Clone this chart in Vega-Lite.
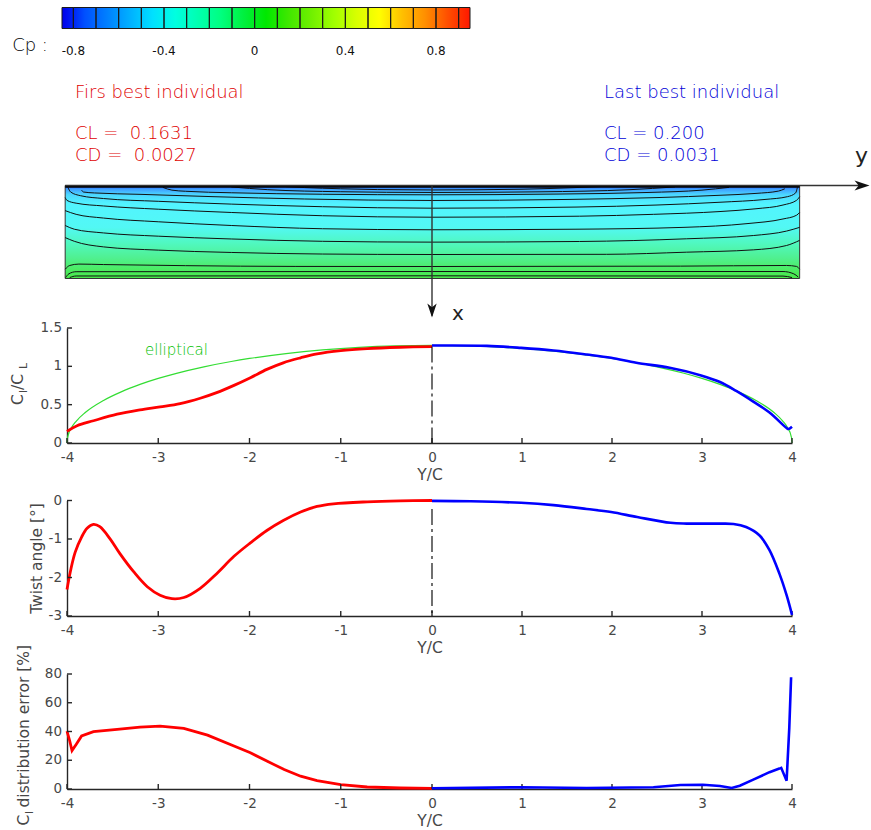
{
"$schema": "https://vega.github.io/schema/vega-lite/v6.json",
"background": "white",
"padding": {"left": 11, "top": 6.5, "right": 0, "bottom": 0},
"bounds": "flush",
"spacing": 57.5,
"config": {
  "view": {"stroke": null},
  "font": "DejaVu Sans",
  "axis": {"grid": false, "domainColor": "#262626", "domainWidth": 1.4, "ticks": false, "labelColor": "#474747", "labelFontSize": 13.5, "labelFont": "DejaVu Sans", "titleFont": "DejaVu Sans", "titleFontSize": 15.5, "titleFontWeight": "normal", "titleColor": "#474747", "labelFlush": false, "labelOverlap": false},
  "axisX": {"labelPadding": 7.4, "titleY": 24, "titleBaseline": "top"},
  "axisY": {"labels": false}
},
"datasets": {
  "cells": [{"a":-0.85,"b":-0.8},{"a":-0.8,"b":-0.7},{"a":-0.7,"b":-0.6},{"a":-0.6,"b":-0.5},{"a":-0.5,"b":-0.4},{"a":-0.4,"b":-0.3},{"a":-0.3,"b":-0.2},{"a":-0.2,"b":-0.1},{"a":-0.1,"b":0},{"a":0,"b":0.1},{"a":0.1,"b":0.2},{"a":0.2,"b":0.3},{"a":0.3,"b":0.4},{"a":0.4,"b":0.5},{"a":0.5,"b":0.6},{"a":0.6,"b":0.7},{"a":0.7,"b":0.8},{"a":0.8,"b":0.9},{"a":0.9,"b":0.95}],
  "cbticks": [{"cp":-0.8,"t":"-0.8"},{"cp":-0.4,"t":"-0.4"},{"cp":0,"t":"0"},{"cp":0.4,"t":"0.4"},{"cp":0.8,"t":"0.8"}],
  "xt": [{"Y":-4},{"Y":-3},{"Y":-2},{"Y":-1},{"Y":0},{"Y":1},{"Y":2},{"Y":3},{"Y":4}],
  "yl1": [{"v":0,"t":"0"},{"v":0.5,"t":"0.5"},{"v":1,"t":"1"},{"v":1.5,"t":"1.5"}],
  "yl2": [{"v":-3,"t":"-3"},{"v":-2,"t":"-2"},{"v":-1,"t":"-1"},{"v":0,"t":"0"}],
  "yl3": [{"v":0,"t":"0"},{"v":20,"t":"20"},{"v":40,"t":"40"},{"v":60,"t":"60"},{"v":80,"t":"80"}],
  "contours": [
    {"k":1,"Y":-1.6,"c":0.012},{"k":1,"Y":-1.4,"c":0.022},{"k":1,"Y":-1.0,"c":0.035},{"k":1,"Y":-0.6,"c":0.044},{"k":1,"Y":0,"c":0.048},{"k":1,"Y":1.0,"c":0.04},{"k":1,"Y":1.6,"c":0.022},{"k":1,"Y":1.9,"c":0.01},
    {"k":2,"Y":-2.2,"c":0.015},{"k":2,"Y":-1.8,"c":0.045},{"k":2,"Y":-1.0,"c":0.067},{"k":2,"Y":0,"c":0.075},{"k":2,"Y":1.2,"c":0.068},{"k":2,"Y":2.2,"c":0.045},{"k":2,"Y":2.7,"c":0.015},
    {"k":3,"Y":-2.95,"c":0.02},{"k":3,"Y":-2.85,"c":0.05},{"k":3,"Y":-2.7,"c":0.062},{"k":3,"Y":-2.2,"c":0.078},{"k":3,"Y":-1.2,"c":0.094},{"k":3,"Y":0,"c":0.1},{"k":3,"Y":1.4,"c":0.092},{"k":3,"Y":2.4,"c":0.075},{"k":3,"Y":3.0,"c":0.05},{"k":3,"Y":3.3,"c":0.02},
    {"k":4,"Y":-3.84,"c":0.05},{"k":4,"Y":-3.82,"c":0.07},{"k":4,"Y":-3.7,"c":0.08},{"k":4,"Y":-3.2,"c":0.095},{"k":4,"Y":-2.4,"c":0.12},{"k":4,"Y":-1.4,"c":0.145},{"k":4,"Y":0,"c":0.161},{"k":4,"Y":1.5,"c":0.15},{"k":4,"Y":2.5,"c":0.13},{"k":4,"Y":3.2,"c":0.105},{"k":4,"Y":3.6,"c":0.085},{"k":4,"Y":3.85,"c":0.06},{"k":4,"Y":3.92,"c":0.035},
    {"k":5,"Y":-3.99,"c":0.02},{"k":5,"Y":-3.96,"c":0.07},{"k":5,"Y":-3.85,"c":0.11},{"k":5,"Y":-3.6,"c":0.14},{"k":5,"Y":-3.0,"c":0.17},{"k":5,"Y":-2.2,"c":0.2},{"k":5,"Y":-1.2,"c":0.228},{"k":5,"Y":0,"c":0.244},{"k":5,"Y":1.6,"c":0.232},{"k":5,"Y":2.5,"c":0.21},{"k":5,"Y":3.2,"c":0.18},{"k":5,"Y":3.7,"c":0.15},{"k":5,"Y":3.95,"c":0.12},{"k":5,"Y":4.04,"c":0.08},{"k":5,"Y":4.06,"c":0.02},
    {"k":6,"Y":-4.02,"c":0.13},{"k":6,"Y":-4.0,"c":0.16},{"k":6,"Y":-3.9,"c":0.19},{"k":6,"Y":-3.6,"c":0.22},{"k":6,"Y":-3.0,"c":0.255},{"k":6,"Y":-2.2,"c":0.29},{"k":6,"Y":-1.2,"c":0.325},{"k":6,"Y":0,"c":0.341},{"k":6,"Y":1.64,"c":0.33},{"k":6,"Y":2.46,"c":0.31},{"k":6,"Y":3.2,"c":0.28},{"k":6,"Y":3.6,"c":0.25},{"k":6,"Y":3.9,"c":0.21},{"k":6,"Y":4.05,"c":0.16},{"k":6,"Y":4.085,"c":0.12},
    {"k":7,"Y":-4.02,"c":0.27},{"k":7,"Y":-3.9,"c":0.31},{"k":7,"Y":-3.6,"c":0.35},{"k":7,"Y":-3.0,"c":0.39},{"k":7,"Y":-2.2,"c":0.43},{"k":7,"Y":-1.2,"c":0.465},{"k":7,"Y":0,"c":0.476},{"k":7,"Y":1.6,"c":0.47},{"k":7,"Y":2.8,"c":0.45},{"k":7,"Y":3.5,"c":0.41},{"k":7,"Y":3.9,"c":0.36},{"k":7,"Y":4.05,"c":0.32},{"k":7,"Y":4.085,"c":0.29},
    {"k":8,"Y":-4.02,"c":0.43},{"k":8,"Y":-3.92,"c":0.47},{"k":8,"Y":-3.6,"c":0.51},{"k":8,"Y":-3.0,"c":0.545},{"k":8,"Y":-2.2,"c":0.575},{"k":8,"Y":-1.2,"c":0.6},{"k":8,"Y":0,"c":0.609},{"k":8,"Y":1.64,"c":0.602},{"k":8,"Y":2.83,"c":0.573},{"k":8,"Y":3.57,"c":0.538},{"k":8,"Y":3.94,"c":0.49},{"k":8,"Y":4.085,"c":0.45},
    {"k":9,"Y":-4.02,"c":0.56},{"k":9,"Y":-3.92,"c":0.6},{"k":9,"Y":-3.6,"c":0.66},{"k":9,"Y":-3.0,"c":0.695},{"k":9,"Y":-2.2,"c":0.72},{"k":9,"Y":-1.2,"c":0.737},{"k":9,"Y":0,"c":0.742},{"k":9,"Y":1.94,"c":0.74},{"k":9,"Y":2.83,"c":0.717},{"k":9,"Y":3.57,"c":0.692},{"k":9,"Y":3.94,"c":0.645},{"k":9,"Y":4.085,"c":0.59},
    {"k":10,"Y":-4.02,"c":0.9},{"k":10,"Y":-3.97,"c":0.86},{"k":10,"Y":-3.87,"c":0.845},{"k":10,"Y":-3.6,"c":0.85},{"k":10,"Y":-2.7,"c":0.862},{"k":10,"Y":-1.5,"c":0.87},{"k":10,"Y":0,"c":0.871},{"k":10,"Y":2.76,"c":0.867},{"k":10,"Y":3.94,"c":0.86},{"k":10,"Y":4.05,"c":0.87},{"k":10,"Y":4.085,"c":0.9},
    {"k":11,"Y":-4.015,"c":0.99},{"k":11,"Y":-3.98,"c":0.95},{"k":11,"Y":-3.9,"c":0.927},{"k":11,"Y":0,"c":0.925},{"k":11,"Y":3.9,"c":0.925},{"k":11,"Y":4.02,"c":0.95},{"k":11,"Y":4.07,"c":0.985},
    {"k":12,"Y":-3.97,"c":0.99},{"k":12,"Y":-3.9,"c":0.973},{"k":12,"Y":0,"c":0.971},{"k":12,"Y":3.9,"c":0.974},{"k":12,"Y":4.0,"c":0.99}
  ],
  "cl_first": [{"Y":-4,"v":0.151},{"Y":-3.89,"v":0.225},{"Y":-3.71,"v":0.29},{"Y":-3.45,"v":0.376},{"Y":-3.2,"v":0.432},{"Y":-2.98,"v":0.471},{"Y":-2.76,"v":0.514},{"Y":-2.54,"v":0.584},{"Y":-2.36,"v":0.657},{"Y":-2.17,"v":0.752},{"Y":-1.99,"v":0.852},{"Y":-1.81,"v":0.96},{"Y":-1.63,"v":1.046},{"Y":-1.44,"v":1.111},{"Y":-1.26,"v":1.163},{"Y":-1.0,"v":1.206},{"Y":-0.71,"v":1.232},{"Y":-0.35,"v":1.249},{"Y":0,"v":1.258}],
  "cl_last": [{"Y":0,"v":1.271},{"Y":0.61,"v":1.267},{"Y":0.99,"v":1.241},{"Y":1.35,"v":1.206},{"Y":1.72,"v":1.154},{"Y":1.99,"v":1.111},{"Y":2.27,"v":1.046},{"Y":2.64,"v":0.981},{"Y":2.99,"v":0.882},{"Y":3.2,"v":0.795},{"Y":3.38,"v":0.679},{"Y":3.57,"v":0.54},{"Y":3.75,"v":0.398},{"Y":3.94,"v":0.195},{"Y":3.96,"v":0.182},{"Y":4.0,"v":0.212}],
  "cl_ellip": [{"Y":-4,"v":0},{"Y":-3.998,"v":0.04},{"Y":-3.99,"v":0.09},{"Y":-3.95,"v":0.2007},{"Y":-3.9,"v":0.2829},{"Y":-3.8,"v":0.3975},{"Y":-3.6,"v":0.555},{"Y":-3.4,"v":0.6707},{"Y":-3.2,"v":0.7639},{"Y":-3.0,"v":0.8421},{"Y":-2.8,"v":0.9092},{"Y":-2.5,"v":0.9939},{"Y":-2.2,"v":1.0633},{"Y":-2.0,"v":1.1026},{"Y":-1.6,"v":1.1669},{"Y":-1.2,"v":1.2146},{"Y":-0.8,"v":1.2475},{"Y":-0.4,"v":1.2668},{"Y":0,"v":1.2732},{"Y":0.4,"v":1.2668},{"Y":0.8,"v":1.2475},{"Y":1.2,"v":1.2146},{"Y":1.6,"v":1.1669},{"Y":2.0,"v":1.1026},{"Y":2.2,"v":1.0633},{"Y":2.5,"v":0.9939},{"Y":2.8,"v":0.9092},{"Y":3.0,"v":0.8421},{"Y":3.2,"v":0.7639},{"Y":3.4,"v":0.6707},{"Y":3.6,"v":0.555},{"Y":3.8,"v":0.3975},{"Y":3.9,"v":0.2829},{"Y":3.95,"v":0.2007},{"Y":3.99,"v":0.09},{"Y":3.998,"v":0.04},{"Y":4,"v":0}],
  "tw_first": [{"Y":-4,"v":-2.31},{"Y":-3.96,"v":-1.81},{"Y":-3.91,"v":-1.34},{"Y":-3.84,"v":-0.95},{"Y":-3.78,"v":-0.72},{"Y":-3.71,"v":-0.62},{"Y":-3.64,"v":-0.68},{"Y":-3.53,"v":-0.99},{"Y":-3.42,"v":-1.38},{"Y":-3.27,"v":-1.85},{"Y":-3.12,"v":-2.24},{"Y":-2.98,"v":-2.46},{"Y":-2.85,"v":-2.55},{"Y":-2.72,"v":-2.52},{"Y":-2.54,"v":-2.28},{"Y":-2.36,"v":-1.9},{"Y":-2.17,"v":-1.45},{"Y":-1.99,"v":-1.1},{"Y":-1.81,"v":-0.78},{"Y":-1.63,"v":-0.52},{"Y":-1.44,"v":-0.3},{"Y":-1.26,"v":-0.155},{"Y":-1.08,"v":-0.086},{"Y":-0.71,"v":-0.034},{"Y":-0.35,"v":-0.009},{"Y":0,"v":0}],
  "tw_last": [{"Y":0,"v":-0.01},{"Y":0.43,"v":-0.02},{"Y":0.99,"v":-0.06},{"Y":1.35,"v":-0.12},{"Y":1.72,"v":-0.22},{"Y":1.99,"v":-0.3},{"Y":2.28,"v":-0.43},{"Y":2.65,"v":-0.58},{"Y":2.83,"v":-0.6},{"Y":3.2,"v":-0.6},{"Y":3.35,"v":-0.61},{"Y":3.49,"v":-0.69},{"Y":3.64,"v":-0.91},{"Y":3.75,"v":-1.29},{"Y":3.86,"v":-1.9},{"Y":3.94,"v":-2.46},{"Y":4.0,"v":-2.97}],
  "er_first": [{"Y":-4,"v":40.3},{"Y":-3.97,"v":33.4},{"Y":-3.945,"v":26.8},{"Y":-3.9,"v":31.0},{"Y":-3.84,"v":36.9},{"Y":-3.71,"v":39.9},{"Y":-3.45,"v":41.5},{"Y":-3.2,"v":43.1},{"Y":-2.98,"v":43.8},{"Y":-2.72,"v":42.2},{"Y":-2.46,"v":37.5},{"Y":-2.17,"v":29.9},{"Y":-1.99,"v":25.2},{"Y":-1.81,"v":19.4},{"Y":-1.62,"v":13.5},{"Y":-1.44,"v":8.9},{"Y":-1.26,"v":5.8},{"Y":-1.0,"v":3.0},{"Y":-0.71,"v":1.4},{"Y":-0.35,"v":0.7},{"Y":0,"v":0.5}],
  "er_last": [{"Y":0,"v":0.5},{"Y":0.99,"v":1.2},{"Y":1.72,"v":0.7},{"Y":2.46,"v":1.2},{"Y":2.76,"v":2.8},{"Y":3.01,"v":3.0},{"Y":3.2,"v":2.1},{"Y":3.33,"v":0.7},{"Y":3.42,"v":2.3},{"Y":3.57,"v":6.5},{"Y":3.75,"v":11.7},{"Y":3.86,"v":14.2},{"Y":3.88,"v":14.7},{"Y":3.94,"v":5.8},{"Y":3.97,"v":42.7},{"Y":3.99,"v":77.7}]
},
"vconcat": [
  {
    "width": 725, "height": 262.5,
    "resolve": {"scale": {"x": "independent"}},
    "layer": [
      {"layer": [
        {"data": {"values": [{"a": -0.85, "b": 0.95}]},
         "mark": {"type": "rect", "fill": {"gradient": "linear", "x1": 0, "y1": 0, "x2": 1, "y2": 0, "stops": [
           {"offset": 0, "color": "#0000e8"},{"offset": 0.0139, "color": "#0010f0"},{"offset": 0.0556, "color": "#0050ff"},{"offset": 0.1111, "color": "#0080ff"},{"offset": 0.1667, "color": "#00b0ff"},{"offset": 0.2222, "color": "#00e0ff"},{"offset": 0.2778, "color": "#00ffe0"},{"offset": 0.3333, "color": "#00ffb0"},{"offset": 0.3889, "color": "#00ff80"},{"offset": 0.4444, "color": "#00f040"},{"offset": 0.5, "color": "#00e800"},{"offset": 0.5556, "color": "#40e800"},{"offset": 0.6111, "color": "#70f000"},{"offset": 0.6667, "color": "#a0ff00"},{"offset": 0.7222, "color": "#d8ff00"},{"offset": 0.7778, "color": "#ffff00"},{"offset": 0.8333, "color": "#ffc000"},{"offset": 0.8889, "color": "#ff9000"},{"offset": 0.9444, "color": "#ff5000"},{"offset": 1, "color": "#ff1800"}]}},
         "encoding": {"x": {"field": "a", "type": "quantitative", "scale": {"domain": [-0.85, 0.95], "range": [-5, 403], "nice": false, "zero": false}, "axis": null}, "x2": {"field": "b"},
                      "y": {"datum": -1.914, "type": "quantitative", "scale": {"domain": [-1.914, 0.9086], "reverse": true, "nice": false, "zero": false}, "axis": null}, "y2": {"datum": -1.688}}},
        {"data": {"name": "cells"},
         "mark": {"type": "rect", "fill": "white", "fillOpacity": 0, "stroke": "#1a1a1a", "strokeWidth": 1},
         "encoding": {"x": {"field": "a", "type": "quantitative", "scale": {"domain": [-0.85, 0.95], "range": [-5, 403], "nice": false, "zero": false}, "axis": null}, "x2": {"field": "b"},
                      "y": {"datum": -1.914, "type": "quantitative", "scale": {"domain": [-1.914, 0.9086], "reverse": true, "nice": false, "zero": false}, "axis": null}, "y2": {"datum": -1.688}}},
        {"data": {"name": "cbticks"},
         "mark": {"type": "text", "fontSize": 12, "baseline": "middle", "align": "center", "color": "#111"},
         "encoding": {"x": {"field": "cp", "type": "quantitative", "scale": {"domain": [-0.85, 0.95], "range": [-5, 403], "nice": false, "zero": false}, "axis": null},
                      "y": {"datum": -1.441, "type": "quantitative", "scale": {"domain": [-1.914, 0.9086], "reverse": true, "nice": false, "zero": false}, "axis": null}, "text": {"field": "t"}}},
        {"data": {"values": [{"t": "Cp :"}]},
         "mark": {"type": "text", "fontSize": 18, "fontWeight": 300, "align": "left", "baseline": "alphabetic", "color": "#000"},
         "encoding": {"x": {"datum": -1.07, "type": "quantitative", "scale": {"domain": [-0.85, 0.95], "range": [-5, 403], "nice": false, "zero": false}, "axis": null},
                      "y": {"datum": -1.45, "type": "quantitative", "scale": {"domain": [-1.914, 0.9086], "reverse": true, "nice": false, "zero": false}, "axis": null}, "text": {"field": "t"}}}
      ]},
      {"layer": [
        {"data": {"values": [{"y0": -4.02, "y1": 4.085, "c0": 0, "c1": 1}]},
         "mark": {"type": "rect", "stroke": "#333", "strokeWidth": 1, "fill": {"gradient": "linear", "x1": 0, "y1": 0, "x2": 0, "y2": 1, "stops": [
           {"offset": 0, "color": "#2850ff"},{"offset": 0.04, "color": "#40a0ff"},{"offset": 0.1, "color": "#4cd8ff"},{"offset": 0.2, "color": "#52f4ff"},{"offset": 0.45, "color": "#52f8f4"},{"offset": 0.62, "color": "#50f8c0"},{"offset": 0.78, "color": "#50f090"},{"offset": 0.9, "color": "#4cec64"},{"offset": 1, "color": "#48e848"}]}},
         "encoding": {"x": {"field": "y0", "type": "quantitative", "scale": {"domain": [-4, 0, 4], "range": [0, 365, 725], "nice": false, "zero": false}, "axis": null}, "x2": {"field": "y1"},
                      "y": {"field": "c0", "type": "quantitative", "scale": {"domain": [-1.914, 0.9086], "reverse": true, "nice": false, "zero": false}, "axis": null}, "y2": {"field": "c1"}}},
        {"data": {"name": "contours"},
         "mark": {"type": "line", "color": "#111", "strokeWidth": 1, "interpolate": "monotone"},
         "encoding": {"x": {"field": "Y", "type": "quantitative", "scale": {"domain": [-4, 0, 4], "range": [0, 365, 725], "nice": false, "zero": false}, "axis": null},
                      "y": {"field": "c", "type": "quantitative", "scale": {"domain": [-1.914, 0.9086], "reverse": true, "nice": false, "zero": false}, "axis": null},
                      "detail": {"field": "k", "type": "nominal"}}},
        {"data": {"values": [{"y0": -4.02, "y1": 4.085}]},
         "mark": {"type": "rule", "color": "#000", "strokeWidth": 2.5},
         "encoding": {"x": {"field": "y0", "type": "quantitative", "scale": {"domain": [-4, 0, 4], "range": [0, 365, 725], "nice": false, "zero": false}, "axis": null}, "x2": {"field": "y1"},
                      "y": {"datum": 0.012, "type": "quantitative", "scale": {"domain": [-1.914, 0.9086], "reverse": true, "nice": false, "zero": false}, "axis": null}}},
        {"data": {"values": [{}]},
         "mark": {"type": "rule", "color": "#333", "strokeWidth": 1.4},
         "encoding": {"x": {"datum": -4.02, "type": "quantitative", "scale": {"domain": [-4, 0, 4], "range": [0, 365, 725], "nice": false, "zero": false}, "axis": null}, "x2": {"datum": 4.8},
                      "y": {"datum": 0, "type": "quantitative", "scale": {"domain": [-1.914, 0.9086], "reverse": true, "nice": false, "zero": false}, "axis": null}}},
        {"data": {"values": [{}]},
         "mark": {"type": "point", "shape": "M-1,-0.67L1,0L-1,0.67L-0.45,0Z", "filled": true, "size": 225, "color": "#111", "opacity": 1, "angle": 0},
         "encoding": {"x": {"datum": 4.778, "type": "quantitative", "scale": {"domain": [-4, 0, 4], "range": [0, 365, 725], "nice": false, "zero": false}, "axis": null},
                      "y": {"datum": 0, "type": "quantitative", "scale": {"domain": [-1.914, 0.9086], "reverse": true, "nice": false, "zero": false}, "axis": null}}},
        {"data": {"values": [{}]},
         "mark": {"type": "rule", "color": "#333", "strokeWidth": 1.4},
         "encoding": {"x": {"datum": 0, "type": "quantitative", "scale": {"domain": [-4, 0, 4], "range": [0, 365, 725], "nice": false, "zero": false}, "axis": null},
                      "y": {"datum": 0, "type": "quantitative", "scale": {"domain": [-1.914, 0.9086], "reverse": true, "nice": false, "zero": false}, "axis": null}, "y2": {"datum": 1.4}}},
        {"data": {"values": [{}]},
         "mark": {"type": "point", "shape": "M-1,-0.67L1,0L-1,0.67L-0.45,0Z", "filled": true, "size": 196, "color": "#111", "opacity": 1, "angle": 90},
         "encoding": {"x": {"datum": 0, "type": "quantitative", "scale": {"domain": [-4, 0, 4], "range": [0, 365, 725], "nice": false, "zero": false}, "axis": null},
                      "y": {"datum": 1.344, "type": "quantitative", "scale": {"domain": [-1.914, 0.9086], "reverse": true, "nice": false, "zero": false}, "axis": null}}},
        {"data": {"values": [{"t": "Firs best individual"}]},
         "mark": {"type": "text", "fontSize": 18, "fontWeight": 300, "align": "left", "baseline": "alphabetic", "color": "#e00000"},
         "encoding": {"x": {"datum": -3.912, "type": "quantitative", "scale": {"domain": [-4, 0, 4], "range": [0, 365, 725], "nice": false, "zero": false}, "axis": null},
                      "y": {"datum": -0.946, "type": "quantitative", "scale": {"domain": [-1.914, 0.9086], "reverse": true, "nice": false, "zero": false}, "axis": null}, "text": {"field": "t"}}},
        {"data": {"values": [{"t": ["CL =\u00a0\u00a00.1631", "CD =\u00a0\u00a00.0027"]}]},
         "mark": {"type": "text", "fontSize": 18, "fontWeight": 300, "align": "left", "baseline": "alphabetic", "color": "#e00000", "lineHeight": 22.5},
         "encoding": {"x": {"datum": -3.912, "type": "quantitative", "scale": {"domain": [-4, 0, 4], "range": [0, 365, 725], "nice": false, "zero": false}, "axis": null},
                      "y": {"datum": -0.505, "type": "quantitative", "scale": {"domain": [-1.914, 0.9086], "reverse": true, "nice": false, "zero": false}, "axis": null}, "text": {"field": "t"}}},
        {"data": {"values": [{"t": "Last best individual"}]},
         "mark": {"type": "text", "fontSize": 18, "fontWeight": 300, "align": "left", "baseline": "alphabetic", "color": "#0000d8"},
         "encoding": {"x": {"datum": 1.911, "type": "quantitative", "scale": {"domain": [-4, 0, 4], "range": [0, 365, 725], "nice": false, "zero": false}, "axis": null},
                      "y": {"datum": -0.946, "type": "quantitative", "scale": {"domain": [-1.914, 0.9086], "reverse": true, "nice": false, "zero": false}, "axis": null}, "text": {"field": "t"}}},
        {"data": {"values": [{"t": ["CL = 0.200", "CD = 0.0031"]}]},
         "mark": {"type": "text", "fontSize": 18, "fontWeight": 300, "align": "left", "baseline": "alphabetic", "color": "#0000d8", "lineHeight": 22.5},
         "encoding": {"x": {"datum": 1.911, "type": "quantitative", "scale": {"domain": [-4, 0, 4], "range": [0, 365, 725], "nice": false, "zero": false}, "axis": null},
                      "y": {"datum": -0.505, "type": "quantitative", "scale": {"domain": [-1.914, 0.9086], "reverse": true, "nice": false, "zero": false}, "axis": null}, "text": {"field": "t"}}},
        {"data": {"values": [{"t": "y"}]},
         "mark": {"type": "text", "fontSize": 22, "align": "left", "baseline": "alphabetic", "color": "#222"},
         "encoding": {"x": {"datum": 4.70, "type": "quantitative", "scale": {"domain": [-4, 0, 4], "range": [0, 365, 725], "nice": false, "zero": false}, "axis": null},
                      "y": {"datum": -0.237, "type": "quantitative", "scale": {"domain": [-1.914, 0.9086], "reverse": true, "nice": false, "zero": false}, "axis": null}, "text": {"field": "t"}}},
        {"data": {"values": [{"t": "x"}]},
         "mark": {"type": "text", "fontSize": 20, "align": "left", "baseline": "alphabetic", "color": "#222"},
         "encoding": {"x": {"datum": 0.222, "type": "quantitative", "scale": {"domain": [-4, 0, 4], "range": [0, 365, 725], "nice": false, "zero": false}, "axis": null},
                      "y": {"datum": 1.441, "type": "quantitative", "scale": {"domain": [-1.914, 0.9086], "reverse": true, "nice": false, "zero": false}, "axis": null}, "text": {"field": "t"}}}
      ]}
    ]
  },
  {
    "width": 725, "height": 115,
    "layer": [
      {"data": {"name": "cl_ellip"},
       "mark": {"type": "line", "color": "#33dd33", "strokeWidth": 1.2, "interpolate": "monotone"},
       "encoding": {"x": {"field": "Y", "type": "quantitative", "scale": {"domain": [-4, 0, 4], "range": [0, 365, 725], "nice": false, "zero": false}, "axis": {"title": "Y/C", "values": [-4,-3,-2,-1,0,1,2,3,4], "labelExpr": "datum.value + ''"}},
                    "y": {"field": "v", "type": "quantitative", "scale": {"domain": [0, 1.5], "nice": false, "zero": false}, "axis": {"title": null, "labels": false, "values": [0, 0.5, 1, 1.5]}}}},
      {"data": {"name": "xt"},
       "mark": {"type": "rule", "color": "#262626", "strokeWidth": 1.4},
       "encoding": {"x": {"field": "Y", "type": "quantitative", "scale": {"domain": [-4, 0, 4], "range": [0, 365, 725], "nice": false, "zero": false}},
                    "y": {"datum": 0, "type": "quantitative", "scale": {"domain": [0, 1.5], "nice": false, "zero": false}}, "y2": {"datum": 0.0652}}},
      {"data": {"name": "yl1"},
       "mark": {"type": "rule", "color": "#262626", "strokeWidth": 1.4},
       "encoding": {"x": {"datum": -4, "type": "quantitative", "scale": {"domain": [-4, 0, 4], "range": [0, 365, 725], "nice": false, "zero": false}}, "x2": {"datum": -3.945},
                    "y": {"field": "v", "type": "quantitative", "scale": {"domain": [0, 1.5], "nice": false, "zero": false}}}},
      {"data": {"name": "yl1"},
       "mark": {"type": "text", "align": "right", "baseline": "middle", "dx": -5, "fontSize": 13.5, "color": "#474747"},
       "encoding": {"x": {"datum": -4, "type": "quantitative", "scale": {"domain": [-4, 0, 4], "range": [0, 365, 725], "nice": false, "zero": false}},
                    "y": {"field": "v", "type": "quantitative", "scale": {"domain": [0, 1.5], "nice": false, "zero": false}}, "text": {"field": "t"}}},
      {"data": {"name": "cl_first"},
       "mark": {"type": "line", "color": "#ff0000", "strokeWidth": 2.8, "interpolate": "catmull-rom"},
       "encoding": {"x": {"field": "Y", "type": "quantitative", "scale": {"domain": [-4, 0, 4], "range": [0, 365, 725], "nice": false, "zero": false}},
                    "y": {"field": "v", "type": "quantitative", "scale": {"domain": [0, 1.5], "nice": false, "zero": false}}}},
      {"data": {"name": "cl_last"},
       "mark": {"type": "line", "color": "#0000ff", "strokeWidth": 2.6, "interpolate": "catmull-rom"},
       "encoding": {"x": {"field": "Y", "type": "quantitative", "scale": {"domain": [-4, 0, 4], "range": [0, 365, 725], "nice": false, "zero": false}},
                    "y": {"field": "v", "type": "quantitative", "scale": {"domain": [0, 1.5], "nice": false, "zero": false}}}},
      {"data": {"values": [{}]},
       "mark": {"type": "rule", "color": "#111", "strokeWidth": 1.2, "strokeDash": [16, 4, 3, 4]},
       "encoding": {"x": {"datum": 0, "type": "quantitative", "scale": {"domain": [-4, 0, 4], "range": [0, 365, 725], "nice": false, "zero": false}},
                    "y": {"datum": 1.26, "type": "quantitative", "scale": {"domain": [0, 1.5], "nice": false, "zero": false}}, "y2": {"datum": 0}}},
      {"data": {"values": [{"t": "elliptical"}]},
       "mark": {"type": "text", "fontSize": 15, "fontWeight": 300, "align": "left", "baseline": "alphabetic", "color": "#00c000"},
       "encoding": {"x": {"datum": -3.145, "type": "quantitative", "scale": {"domain": [-4, 0, 4], "range": [0, 365, 725], "nice": false, "zero": false}},
                    "y": {"datum": 1.148, "type": "quantitative", "scale": {"domain": [0, 1.5], "nice": false, "zero": false}}, "text": {"field": "t"}}},
      {"data": {"values": [{"t": "C"}]},
       "mark": {"type": "text", "fontSize": 15.5, "angle": 270, "align": "left", "baseline": "alphabetic", "color": "#474747"},
       "encoding": {"x": {"datum": -4.482, "type": "quantitative", "scale": {"domain": [-4, 0, 4], "range": [0, 365, 725], "nice": false, "zero": false}},
                    "y": {"datum": 0.4957, "type": "quantitative", "scale": {"domain": [0, 1.5], "nice": false, "zero": false}}, "text": {"field": "t"}}},
      {"data": {"values": [{"t": "l"}]},
       "mark": {"type": "text", "fontSize": 11, "angle": 270, "align": "left", "baseline": "alphabetic", "color": "#474747"},
       "encoding": {"x": {"datum": -4.438, "type": "quantitative", "scale": {"domain": [-4, 0, 4], "range": [0, 365, 725], "nice": false, "zero": false}},
                    "y": {"datum": 0.6522, "type": "quantitative", "scale": {"domain": [0, 1.5], "nice": false, "zero": false}}, "text": {"field": "t"}}},
      {"data": {"values": [{"t": "/C"}]},
       "mark": {"type": "text", "fontSize": 15.5, "angle": 270, "align": "left", "baseline": "alphabetic", "color": "#474747"},
       "encoding": {"x": {"datum": -4.482, "type": "quantitative", "scale": {"domain": [-4, 0, 4], "range": [0, 365, 725], "nice": false, "zero": false}},
                    "y": {"datum": 0.6913, "type": "quantitative", "scale": {"domain": [0, 1.5], "nice": false, "zero": false}}, "text": {"field": "t"}}},
      {"data": {"values": [{"t": "L"}]},
       "mark": {"type": "text", "fontSize": 11, "angle": 270, "align": "left", "baseline": "alphabetic", "color": "#474747"},
       "encoding": {"x": {"datum": -4.438, "type": "quantitative", "scale": {"domain": [-4, 0, 4], "range": [0, 365, 725], "nice": false, "zero": false}},
                    "y": {"datum": 0.965, "type": "quantitative", "scale": {"domain": [0, 1.5], "nice": false, "zero": false}}, "text": {"field": "t"}}}
    ]
  },
  {
    "width": 725, "height": 115.5,
    "layer": [
      {"data": {"name": "tw_first"},
       "mark": {"type": "line", "color": "#ff0000", "strokeWidth": 2.8, "interpolate": "catmull-rom"},
       "encoding": {"x": {"field": "Y", "type": "quantitative", "scale": {"domain": [-4, 0, 4], "range": [0, 365, 725], "nice": false, "zero": false}, "axis": {"title": "Y/C", "values": [-4,-3,-2,-1,0,1,2,3,4], "labelExpr": "datum.value + ''"}},
                    "y": {"field": "v", "type": "quantitative", "scale": {"domain": [-3, 0], "nice": false, "zero": false}, "axis": {"title": null, "labels": false, "values": [-3, -2, -1, 0]}}}},
      {"data": {"name": "xt"},
       "mark": {"type": "rule", "color": "#262626", "strokeWidth": 1.4},
       "encoding": {"x": {"field": "Y", "type": "quantitative", "scale": {"domain": [-4, 0, 4], "range": [0, 365, 725], "nice": false, "zero": false}},
                    "y": {"datum": -3, "type": "quantitative", "scale": {"domain": [-3, 0], "nice": false, "zero": false}}, "y2": {"datum": -2.87}}},
      {"data": {"name": "yl2"},
       "mark": {"type": "rule", "color": "#262626", "strokeWidth": 1.4},
       "encoding": {"x": {"datum": -4, "type": "quantitative", "scale": {"domain": [-4, 0, 4], "range": [0, 365, 725], "nice": false, "zero": false}}, "x2": {"datum": -3.945},
                    "y": {"field": "v", "type": "quantitative", "scale": {"domain": [-3, 0], "nice": false, "zero": false}}}},
      {"data": {"name": "yl2"},
       "mark": {"type": "text", "align": "right", "baseline": "middle", "dx": -5, "fontSize": 13.5, "color": "#474747"},
       "encoding": {"x": {"datum": -4, "type": "quantitative", "scale": {"domain": [-4, 0, 4], "range": [0, 365, 725], "nice": false, "zero": false}},
                    "y": {"field": "v", "type": "quantitative", "scale": {"domain": [-3, 0], "nice": false, "zero": false}}, "text": {"field": "t"}}},
      {"data": {"name": "tw_last"},
       "mark": {"type": "line", "color": "#0000ff", "strokeWidth": 2.6, "interpolate": "catmull-rom"},
       "encoding": {"x": {"field": "Y", "type": "quantitative", "scale": {"domain": [-4, 0, 4], "range": [0, 365, 725], "nice": false, "zero": false}},
                    "y": {"field": "v", "type": "quantitative", "scale": {"domain": [-3, 0], "nice": false, "zero": false}}}},
      {"data": {"values": [{}]},
       "mark": {"type": "rule", "color": "#111", "strokeWidth": 1.2, "strokeDash": [16, 4, 3, 4]},
       "encoding": {"x": {"datum": 0, "type": "quantitative", "scale": {"domain": [-4, 0, 4], "range": [0, 365, 725], "nice": false, "zero": false}},
                    "y": {"datum": -0.22, "type": "quantitative", "scale": {"domain": [-3, 0], "nice": false, "zero": false}}, "y2": {"datum": -3}}},
      {"data": {"values": [{"t": "Twist angle [°]"}]},
       "mark": {"type": "text", "fontSize": 15.5, "angle": 270, "align": "center", "baseline": "alphabetic", "color": "#474747"},
       "encoding": {"x": {"datum": -4.274, "type": "quantitative", "scale": {"domain": [-4, 0, 4], "range": [0, 365, 725], "nice": false, "zero": false}},
                    "y": {"datum": -1.506, "type": "quantitative", "scale": {"domain": [-3, 0], "nice": false, "zero": false}}, "text": {"field": "t"}}}
    ]
  },
  {
    "width": 725, "height": 115,
    "layer": [
      {"data": {"name": "er_first"},
       "mark": {"type": "line", "color": "#ff0000", "strokeWidth": 2.8},
       "encoding": {"x": {"field": "Y", "type": "quantitative", "scale": {"domain": [-4, 0, 4], "range": [0, 365, 725], "nice": false, "zero": false}, "axis": {"title": "Y/C", "values": [-4,-3,-2,-1,0,1,2,3,4], "labelExpr": "datum.value + ''"}},
                    "y": {"field": "v", "type": "quantitative", "scale": {"domain": [0, 80], "nice": false, "zero": false}, "axis": {"title": null, "labels": false, "values": [0, 20, 40, 60, 80]}}}},
      {"data": {"name": "xt"},
       "mark": {"type": "rule", "color": "#262626", "strokeWidth": 1.4},
       "encoding": {"x": {"field": "Y", "type": "quantitative", "scale": {"domain": [-4, 0, 4], "range": [0, 365, 725], "nice": false, "zero": false}},
                    "y": {"datum": 0, "type": "quantitative", "scale": {"domain": [0, 80], "nice": false, "zero": false}}, "y2": {"datum": 3.48}}},
      {"data": {"name": "yl3"},
       "mark": {"type": "rule", "color": "#262626", "strokeWidth": 1.4},
       "encoding": {"x": {"datum": -4, "type": "quantitative", "scale": {"domain": [-4, 0, 4], "range": [0, 365, 725], "nice": false, "zero": false}}, "x2": {"datum": -3.945},
                    "y": {"field": "v", "type": "quantitative", "scale": {"domain": [0, 80], "nice": false, "zero": false}}}},
      {"data": {"name": "yl3"},
       "mark": {"type": "text", "align": "right", "baseline": "middle", "dx": -5, "fontSize": 13.5, "color": "#474747"},
       "encoding": {"x": {"datum": -4, "type": "quantitative", "scale": {"domain": [-4, 0, 4], "range": [0, 365, 725], "nice": false, "zero": false}},
                    "y": {"field": "v", "type": "quantitative", "scale": {"domain": [0, 80], "nice": false, "zero": false}}, "text": {"field": "t"}}},
      {"data": {"name": "er_last"},
       "mark": {"type": "line", "color": "#0000ff", "strokeWidth": 2.6},
       "encoding": {"x": {"field": "Y", "type": "quantitative", "scale": {"domain": [-4, 0, 4], "range": [0, 365, 725], "nice": false, "zero": false}},
                    "y": {"field": "v", "type": "quantitative", "scale": {"domain": [0, 80], "nice": false, "zero": false}}}},
      {"data": {"values": [{"t": "C"}]},
       "mark": {"type": "text", "fontSize": 15.5, "angle": 270, "align": "left", "baseline": "alphabetic", "color": "#474747"},
       "encoding": {"x": {"datum": -4.416, "type": "quantitative", "scale": {"domain": [-4, 0, 4], "range": [0, 365, 725], "nice": false, "zero": false}},
                    "y": {"datum": -25.39, "type": "quantitative", "scale": {"domain": [0, 80], "nice": false, "zero": false}}, "text": {"field": "t"}}},
      {"data": {"values": [{"t": "l"}]},
       "mark": {"type": "text", "fontSize": 11, "angle": 270, "align": "left", "baseline": "alphabetic", "color": "#474747"},
       "encoding": {"x": {"datum": -4.372, "type": "quantitative", "scale": {"domain": [-4, 0, 4], "range": [0, 365, 725], "nice": false, "zero": false}},
                    "y": {"datum": -17.39, "type": "quantitative", "scale": {"domain": [0, 80], "nice": false, "zero": false}}, "text": {"field": "t"}}},
      {"data": {"values": [{"t": "distribution error [%]"}]},
       "mark": {"type": "text", "fontSize": 15.5, "angle": 270, "align": "left", "baseline": "alphabetic", "color": "#474747"},
       "encoding": {"x": {"datum": -4.416, "type": "quantitative", "scale": {"domain": [-4, 0, 4], "range": [0, 365, 725], "nice": false, "zero": false}},
                    "y": {"datum": -12.87, "type": "quantitative", "scale": {"domain": [0, 80], "nice": false, "zero": false}}, "text": {"field": "t"}}}
    ]
  }
]
}
